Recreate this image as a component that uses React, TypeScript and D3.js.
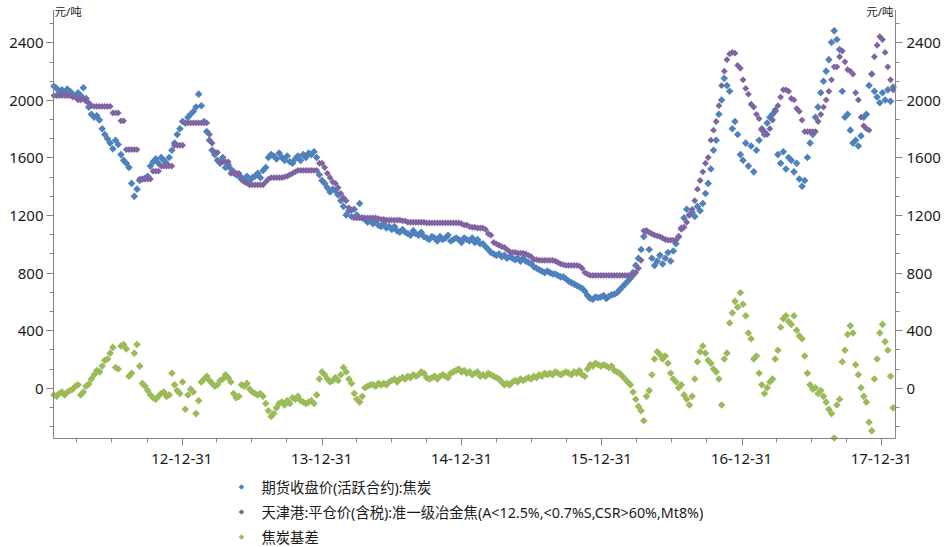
import * as d3 from "d3";

// weekly observations, first one on START
const START = "2012-02-01";

// 期货收盘价(活跃合约):焦炭
const futures = [
  2095, 2080, 2060, 2070, 2050, 2075, 2060, 2040, 2030, 2050,
  2030, 2085, 2010, 1950, 1900, 1880, 1890, 1860, 1800, 1760,
  1730, 1700, 1660, 1720, 1690, 1620, 1580, 1560, 1530, 1420,
  1330, 1380, 1440, 1450, 1455, 1470, 1540, 1570, 1590, 1560,
  1600, 1580, 1560, 1600, 1650, 1700, 1760, 1800, 1850, 1840,
  1880, 1900, 1920, 1950, 2040, 1960, 1850, 1780, 1720, 1650,
  1620, 1580, 1560, 1600, 1530, 1550, 1520, 1500, 1480, 1470,
  1460, 1450, 1470, 1440, 1460, 1470, 1490, 1460, 1510, 1530,
  1600, 1620, 1610, 1590, 1630, 1600, 1580, 1610, 1570, 1560,
  1590, 1610, 1580, 1620, 1600, 1630, 1620, 1640, 1600, 1480,
  1440, 1420, 1390, 1360, 1380, 1370, 1340, 1300, 1260, 1200,
  1230, 1190, 1240, 1200, 1280, 1180, 1170, 1150, 1160, 1140,
  1150, 1130, 1120, 1140, 1110, 1120, 1100, 1120, 1090, 1080,
  1100, 1080, 1070, 1060, 1090, 1070, 1060, 1080, 1050, 1040,
  1030, 1050, 1040, 1020, 1050, 1030, 1040, 1060, 1020, 1030,
  1040, 1030, 1010, 1040, 1030, 1020, 1040, 1010, 1030, 1000,
  1000, 980, 960, 940, 930, 920, 930, 910, 920, 900,
  910, 900, 890, 900, 880, 900, 880, 870, 860, 840,
  830, 820, 810, 800, 810, 800, 790, 790, 780, 770,
  770, 755, 740, 730, 720, 710, 700, 690, 670, 640,
  620, 615, 630, 625, 630, 640, 620, 635, 645, 650,
  660, 680, 700, 720, 740, 760, 800, 850, 900, 960,
  1050, 1090, 960, 900, 850, 880, 920, 860, 900, 940,
  880, 950, 1000, 1050, 1110, 1180, 1240, 1200, 1220, 1190,
  1260, 1230, 1280, 1350, 1420, 1520, 1650, 1720, 1900, 2000,
  2150, 2100, 2060, 1800, 1850, 1760, 1620, 1580, 1700, 1540,
  1680, 1500, 1650, 1720, 1800, 1760, 1840, 1880, 1900, 1930,
  1620, 1560, 1640, 1520, 1600, 1580, 1500, 1560, 1450, 1400,
  1440, 1600, 1700, 1760, 1880, 1950, 2050, 2130, 2200, 2280,
  2400, 2480, 2420, 2350, 2060, 1880, 1900, 1790, 1700, 1720,
  1680, 1750, 1880, 1900, 2100, 2180, 2060, 2020, 1980, 2050,
  2000, 2070, 1990, 2090,
];

// 天津港:平仓价(含税)
const spot = [
  2030, 2030, 2030, 2030, 2030, 2030, 2030, 2020, 2020, 2000,
  2000, 2010, 1990, 1980, 1960, 1955, 1955, 1955, 1955, 1955,
  1955, 1955, 1910, 1910, 1910, 1855, 1855, 1655, 1655, 1655,
  1655, 1655, 1450, 1450, 1450, 1450, 1450, 1505, 1505, 1505,
  1540, 1540, 1540, 1540, 1540, 1685, 1685, 1685, 1685, 1840,
  1840, 1840, 1840, 1840, 1840, 1840, 1840, 1840, 1760, 1700,
  1635, 1635, 1570, 1570, 1570, 1570, 1490, 1490, 1490, 1490,
  1445, 1430, 1420, 1410, 1410, 1410, 1410, 1410, 1410, 1430,
  1450, 1460, 1460, 1460, 1460, 1460, 1465, 1470, 1480, 1490,
  1500, 1510, 1510, 1510, 1510, 1510, 1510, 1510, 1510, 1560,
  1560, 1530, 1490, 1460, 1430, 1420, 1390, 1350, 1320, 1300,
  1250, 1235, 1180, 1180, 1180, 1180, 1180, 1180, 1180, 1180,
  1180, 1175, 1170, 1170, 1165, 1165, 1165, 1165, 1165, 1165,
  1160, 1160, 1150, 1150, 1150, 1150, 1150, 1150, 1150, 1145,
  1145, 1145, 1145, 1145, 1145, 1145, 1145, 1145, 1145, 1145,
  1145, 1145, 1140, 1130, 1130, 1120, 1115, 1115, 1110, 1110,
  1110, 1100, 1070, 1060, 1010, 1000, 990, 980, 975, 960,
  945, 940, 940, 935, 935, 935, 930, 920, 910, 890,
  890, 885, 885, 885, 885, 885, 885, 880, 870, 860,
  855, 850, 850, 850, 850, 850, 845, 830, 800, 790,
  780, 780, 780, 780, 780, 780, 780, 780, 780, 780,
  780, 780, 780, 780, 780, 780, 780, 800, 830, 885,
  1090, 1085, 1080, 1070, 1060, 1055, 1050, 1040, 1030, 1025,
  1025, 1025, 1025, 1050, 1100, 1115, 1150, 1200, 1240, 1300,
  1380, 1440, 1500, 1560, 1600, 1720, 1790, 1850, 1960, 2100,
  2200, 2280, 2320, 2330, 2325, 2240, 2220, 2140, 2080, 2040,
  1970, 1950, 1900, 1870, 1790, 1780, 1760, 1800, 1860, 1920,
  1960, 2020, 2070, 2070, 2060, 2010, 2000, 1940, 1920, 1860,
  1780, 1780, 1780, 1780, 1780, 1850, 1900, 1950, 2000, 2060,
  2140, 2230, 2230, 2300, 2340, 2265, 2210, 2200, 2180, 2050,
  2000, 1880, 1820, 1800, 1790, 2180, 2300, 2380, 2440, 2420,
  2330, 2230, 2140, 2070,
];

// 焦炭基差
const basis = [
  -50, -60, -40, -30, -50, -30, -20, -10, 10, 20,
  -50, -30, 10, 25, 60, 90, 120, 110, 150, 190,
  200, 240, 280, 140, 130, 290, 300, 270, 80, 100,
  240, 300, 150, 30, 10, -20, -50, -70, -80, -60,
  -40, -30, -60, -50, 100, 20, -20, -40, 40, -150,
  -50, -10, -30, -180, -90, 40, 60, 80, 50, 30,
  10, 20, 50, 60, 90, 70, 40, -40, -70, -60,
  20, 10, 30, -10, -30, -40, -50, -40, -60, -110,
  -160, -200, -180, -140, -110, -100, -120, -90, -110, -70,
  -80, -60, -90, -100, -110, -100, -90, -110, -50, 60,
  110, 90, 60, 40, 50, 70, 50, 90, 140, 110,
  60, 30, -40, -80, -100, -60, 0, 10, 20, 20,
  10, 30, 20, 30, 20, 40, 50, 60, 40, 60,
  70, 60, 80, 70, 90, 80, 90, 110, 100, 70,
  60, 70, 80, 60, 80, 90, 80, 70, 100, 110,
  120, 130, 110, 120, 100, 110, 90, 100, 110, 80,
  90, 80, 100, 90, 80, 70, 60, 40, 20, 30,
  20, 40, 50, 40, 60, 50, 60, 70, 60, 80,
  70, 90, 80, 100, 90, 100, 90, 110, 100, 90,
  100, 110, 100, 90, 110, 100, 120, 90, 80, 130,
  160, 150, 170, 160, 150, 160, 150, 140, 150, 120,
  110, 100, 80, 60, 40, 20, -30, -80, -130, -160,
  -230, -60, -20, 90, 200, 250, 230, 200, 220, 170,
  100, 60, 40, 0, 20, -50, -80, -120, -60, 60,
  180, 250, 290, 240, 190, 170, 130, 110, 60, -120,
  200, 240, 450, 520, 600, 560, 660, 580, 500, 380,
  340, 200, 220, 100, 20, -40, 0, 40, 60, 200,
  260, 420, 480, 500, 460, 440, 500, 400, 360, 340,
  220, 100, 20, -10, 0, -40, -20, -60, -100, -150,
  -180, -350, -120, -80, 180, 260, 370, 430, 380, 160,
  90, 0, -60, -100, -240, -300, 60, 200, 380, 440,
  320, 260, 80, -140,
];

const seriesNames = [
  "期货收盘价(活跃合约):焦炭",
  "天津港:平仓价(含税):准一级冶金焦(A<12.5%,<0.7%S,CSR>60%,Mt8%)",
  "焦炭基差",
];
const seriesColors = ["#4f81bd", "#8064a2", "#9bbb59"];
const yTicks = [0, 400, 800, 1200, 1600, 2000, 2400];
const yearTicks = ["2012-12-31", "2013-12-31", "2014-12-31", "2015-12-31", "2016-12-31", "2017-12-31"];
const xDomain = ["2012-01-31", "2018-02-06"];
const yDomain = [-353, 2625];
const unit = "元/吨";

const W = 944;
const H = 547;
const left = 53.5;
const right = 895.5;
const top = 10;
const bottom = 438.5;
const axisColor = "#868686";
const font = "'Noto Sans','Noto Sans CJK SC',sans-serif";

const parse = d3.timeParse("%Y-%m-%d");
const fmt = d3.timeFormat("%y-%m-%d");

const diamond = (r: number) => `M0,${-r}L${r},0L0,${r}L${-r},0Z`;

export default function App() {
  const t0 = parse(START)!;
  const dates = futures.map((_, i) => d3.timeDay.offset(t0, 7 * i));

  const x = d3
    .scaleTime()
    .domain(xDomain.map((d) => parse(d)!))
    .range([left, right]);
  const y = d3.scaleLinear().domain(yDomain).range([bottom, top]);

  // 次刻度：每 400/3
  const minorY = d3
    .range(-3, 21)
    .map((k) => (k * 400) / 3)
    .filter((v) => v >= yDomain[0] && v <= yDomain[1]);

  // 季末刻度
  const [d0, d1] = x.domain();
  const quarterTicks = d3.timeMonth
    .every(3)!
    .range(d0, d3.timeMonth.offset(d1, 3))
    .map((d) => d3.timeDay.offset(d, -1))
    .filter((d) => d >= d0 && d <= d1);
  const majorX = yearTicks.map((d) => parse(d)!);

  const series = [futures, spot, basis];
  const py = (v: number) => Math.round(y(v)) + 0.5;
  const px = (d: Date) => Math.round(x(d)) + 0.5;

  return (
    <svg
      width={W}
      height={H}
      style={{ position: "absolute", left: 0, top: 0, background: "#fff" }}
      fontFamily={font}
    >
      {/* 散点 */}
      {series.map((vals, si) => (
        <g key={si} fill={seriesColors[si]}>
          {vals.map((v, i) => (
            <path
              key={i}
              d={diamond(si === 1 ? 3.4 : 3.8)}
              transform={`translate(${x(dates[i])},${y(v)})`}
            />
          ))}
        </g>
      ))}

      {/* 坐标轴 */}
      <g stroke={axisColor} strokeWidth={1}>
        <line x1={left} x2={left} y1={top} y2={bottom} />
        <line x1={right} x2={right} y1={top} y2={bottom} />
        <line x1={left} x2={right} y1={bottom} y2={bottom} />
        {minorY.map((v) => (
          <g key={v}>
            <line x1={left - 4} x2={left} y1={py(v)} y2={py(v)} />
            <line x1={right} x2={right + 4} y1={py(v)} y2={py(v)} />
          </g>
        ))}
        {yTicks.map((v) => (
          <g key={v}>
            <line x1={left - 7} x2={left} y1={py(v)} y2={py(v)} />
            <line x1={right} x2={right + 7} y1={py(v)} y2={py(v)} />
          </g>
        ))}
        {quarterTicks.map((d) => (
          <line key={+d} x1={px(d)} x2={px(d)} y1={bottom} y2={bottom + 4} />
        ))}
        {majorX.map((d) => (
          <line key={+d} x1={px(d)} x2={px(d)} y1={bottom} y2={bottom + 7} />
        ))}
      </g>

      <g fontSize={15} fill="#1a1a1a">
        {yTicks.map((v) => (
          <g key={v}>
            <text x={left - 10} y={y(v)} textAnchor="end" dominantBaseline="central">
              {v}
            </text>
            <text x={right + 11} y={y(v)} dominantBaseline="central">
              {v}
            </text>
          </g>
        ))}
        {majorX.map((d) => (
          <text key={+d} x={x(d)} y={463.5} textAnchor="middle">
            {fmt(d)}
          </text>
        ))}
      </g>

      <g fontSize={11.5} fill="#1a1a1a">
        <text x={left + 1} y={16}>
          {unit}
        </text>
        <text x={right - 2} y={16} textAnchor="end">
          {unit}
        </text>
      </g>

      {/* 图例 */}
      <g fontSize={14.3} fill="#1a1a1a">
        {seriesNames.map((name, i) => {
          const ly = 487 + i * 25;
          return (
            <g key={name}>
              <path d={diamond(2.8)} fill={seriesColors[i]} transform={`translate(241.5,${ly})`} />
              <text x={261.5} y={ly} dominantBaseline="central">
                {name}
              </text>
            </g>
          );
        })}
      </g>
    </svg>
  );
}
